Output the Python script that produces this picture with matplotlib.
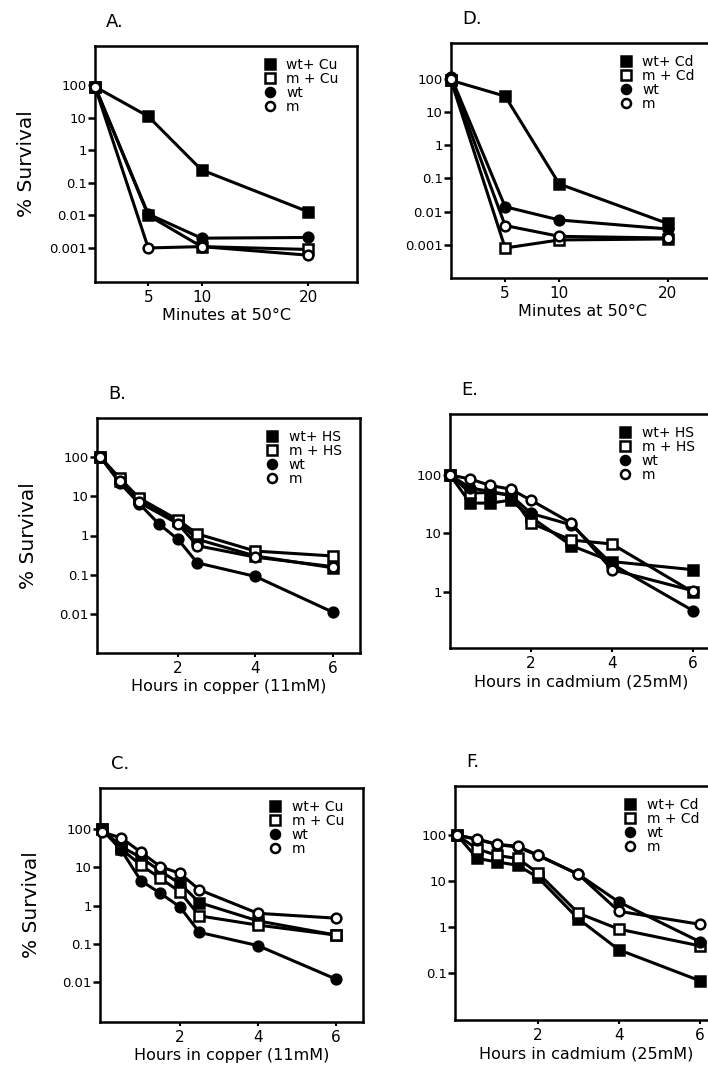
import matplotlib
matplotlib.use('Agg')
import matplotlib.pyplot as plt
from matplotlib.lines import Line2D

W, H = 708, 1068

# A. minutes at 50C after copper pretreatment
a_x = [0, 5, 10, 20]
a_wt_cu = [90, 11, 0.25, 0.013]
a_m_cu = [90, 0.01, 0.0011, 0.0009]
a_wt = [90, 0.011, 0.002, 0.0021]
a_m = [90, 0.001, 0.0011, 0.0006]

# D. minutes at 50C after cadmium pretreatment
d_x = [0, 5, 10, 20]
d_wt_cd = [90, 30, 0.068, 0.0044]
d_m_cd = [90, 0.0008, 0.0014, 0.0015]
d_wt = [115, 0.014, 0.0056, 0.003]
d_m = [100, 0.0038, 0.0018, 0.0016]

# B. hours in copper after heat shock
b_x = [0, 0.5, 1, 2, 2.5, 4, 6]
b_wt_hs = [100, 25, 8.5, 2.3, 0.8, 0.3, 0.15]
b_m_hs = [100, 29, 9, 2.5, 1.1, 0.4, 0.3]
b_wt_x = [0, 0.5, 1, 1.5, 2, 2.5, 4, 6]
b_wt = [100, 22, 6.5, 2, 0.8, 0.2, 0.09, 0.011]
b_m = [100, 24, 7, 2, 0.55, 0.28, 0.16]

# E. hours in cadmium after heat shock
e_x = [0, 0.5, 1, 1.5, 2, 3, 4, 6]
e_wt_hs = [100, 33, 33, 37, 19, 6.2, 3.3, 2.4]
e_m_hs = [100, 49, 50, 45, 15, 7.7, 6.6, 1.0]
e_wt = [100, 60, 52, 45, 22, 14, 3.0, 0.48]
e_m = [100, 85, 66, 57, 37, 15, 2.4, 1.05]

# C. hours in copper after copper pretreatment
c_x = [0, 0.5, 1, 1.5, 2, 2.5, 4, 6]
c_wt_cu = [100, 35, 18, 8, 3.8, 1.2, 0.4, 0.17]
c_m_cu = [100, 30, 11.5, 5.2, 2.3, 0.54, 0.31, 0.17]
c_wt = [100, 28, 4.5, 2.1, 0.93, 0.2, 0.09, 0.012]
c_m = [85, 59, 25, 10.5, 7, 2.6, 0.63, 0.47]

# F. hours in cadmium after cadmium pretreatment
f_x = [0, 0.5, 1, 1.5, 2, 3, 4, 6]
f_wt_cd = [100, 31, 26, 22, 12, 1.5, 0.32, 0.068]
f_m_cd = [100, 50, 36, 31, 15, 2.0, 0.9, 0.39]
f_wt = [100, 80, 62, 55, 36, 14, 3.5, 0.48]
f_m = [100, 82, 63, 57, 37, 14, 2.2, 1.15]

ytick_vals = [100, 10, 1, 0.1, 0.01, 0.001]
ytick_labels = ['100', '10', '1', '0.1', '0.01', '0.001']

# marker style per series: wt+X, m+X, wt, m
styles = [('s', 'black', 7.5), ('s', 'white', 7.5), ('o', 'black', 7), ('o', 'white', 7)]


def px_rect(x0, y0, x1, y1):
    return [x0 / W, 1 - y1 / H, (x1 - x0) / W, (y1 - y0) / H]


def draw_panel(fig, box, letter, series, labels, xticks, xlim, ylim, nticks,
               xlabel, ylabel=False):
    ax = fig.add_axes(px_rect(*box))
    # lines first, markers above
    for x, y in series:
        ax.plot(x, y, '-', color='black', lw=2.2, zorder=2, clip_on=False)
    for (x, y), (mk, fc, ms) in zip(series, styles):
        ax.plot(x, y, mk, mfc=fc, mec='black', mew=1.8, ms=ms, zorder=3, clip_on=False)
    ax.set_yscale('log')
    ax.set_xlim(*xlim)
    ax.set_ylim(*ylim)
    ax.minorticks_off()
    ax.set_yticks(ytick_vals[:nticks])
    ax.set_yticklabels(ytick_labels[:nticks])
    ax.set_xticks(xticks)
    ax.set_xticklabels([str(t) for t in xticks])
    for s in ax.spines.values():
        s.set_linewidth(1.8)
    ax.tick_params(axis='y', direction='out', length=5, width=1.8, labelsize=9.5, pad=1)
    ax.tick_params(axis='x', direction='out', length=3, width=1.5, labelsize=11, pad=3)
    ax.set_xlabel(xlabel, fontsize=11.5, labelpad=2)
    if ylabel:
        ax.set_ylabel('% Survival', fontsize=14.5)
        ax.yaxis.set_label_coords(-0.225, 0.5)
    handles = [Line2D([], [], ls='none', marker=mk, mfc=fc, mec='black', mew=1.8, ms=ms - 0.5)
               for mk, fc, ms in styles]
    ax.legend(handles, labels, loc='upper left', bbox_to_anchor=(0.645, 0.95),
              frameon=False, fontsize=10, handlelength=0.8, handletextpad=0.8,
              labelspacing=0.0, borderpad=0, borderaxespad=0)
    x0, y0 = box[0], box[1]
    fig.text((x0 + 11) / W, 1 - (y0 - 24) / H, letter, fontsize=13, va='center', ha='left')
    return ax


fig = plt.figure(figsize=(W / 100, H / 100), dpi=100)

draw_panel(fig, (95, 46, 357, 282), 'A.', [(a_x, a_wt_cu), (a_x, a_m_cu), (a_x, a_wt), (a_x, a_m)],
           ['wt+ Cu', 'm + Cu', 'wt', 'm'], [5, 10, 20], (0, 24.6), (9e-5, 1.6e3), 6,
           'Minutes at 50°C', ylabel=True)
draw_panel(fig, (451, 43, 713, 278), 'D.', [(d_x, d_wt_cd), (d_x, d_m_cd), (d_x, d_wt), (d_x, d_m)],
           ['wt+ Cd', 'm + Cd', 'wt', 'm'], [5, 10, 20], (0, 24.2), (1e-4, 1.2e3), 6,
           'Minutes at 50°C')
draw_panel(fig, (97, 418, 360, 653), 'B.', [(b_x, b_wt_hs), (b_x, b_m_hs), (b_wt_x, b_wt), (b_x, b_m)],
           ['wt+ HS', 'm + HS', 'wt', 'm'], [2, 4, 6], (-0.09, 6.7), (1e-3, 1e3), 5,
           'Hours in copper (11mM)', ylabel=True)
draw_panel(fig, (450, 414, 713, 648), 'E.', [(e_x, e_wt_hs), (e_x, e_m_hs), (e_x, e_wt), (e_x, e_m)],
           ['wt+ HS', 'm + HS', 'wt', 'm'], [2, 4, 6], (0, 6.5), (0.11, 1100), 3,
           'Hours in cadmium (25mM)')
draw_panel(fig, (100, 788, 363, 1022), 'C.', [(c_x, c_wt_cu), (c_x, c_m_cu), (c_x, c_wt), (c_x, c_m)],
           ['wt+ Cu', 'm + Cu', 'wt', 'm'], [2, 4, 6], (-0.05, 6.7), (9e-4, 1.2e3), 5,
           'Hours in copper (11mM)', ylabel=True)
draw_panel(fig, (455, 786, 718, 1020), 'F.', [(f_x, f_wt_cd), (f_x, f_m_cd), (f_x, f_wt), (f_x, f_m)],
           ['wt+ Cd', 'm + Cd', 'wt', 'm'], [2, 4, 6], (-0.05, 6.45), (0.0095, 1170), 4,
           'Hours in cadmium (25mM)')

fig.savefig('out.png', dpi=100)
